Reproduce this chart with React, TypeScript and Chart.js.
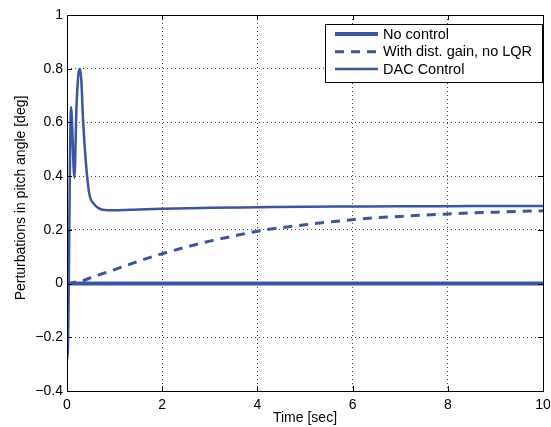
import React, { useEffect, useRef } from 'react';
import { Chart, registerables } from 'chart.js';
Chart.register(...registerables);

const seriesLabels = ['No control', 'With dist. gain, no LQR', 'DAC Control'];
const xTickValues = [0, 2, 4, 6, 8, 10];
const yTickValues = [-0.4, -0.2, 0, 0.2, 0.4, 0.6, 0.8, 1];
const xTitle = 'Time [sec]';
const yTitle = 'Perturbations in pitch angle [deg]';

const noControlT = [0, 10];
const noControlV = [0, 0];

const distGainT = [0, 0.35, 0.5, 1, 1.5, 2, 2.5, 3, 3.5, 4, 4.5, 5, 5.5, 6, 6.5, 7, 7.5, 8, 8.5, 9, 9.5, 10];
const distGainV = [0, 0.012, 0.022, 0.052, 0.083, 0.111, 0.136, 0.158, 0.177, 0.195, 0.208, 0.219, 0.229, 0.238, 0.245, 0.25, 0.255, 0.259, 0.263, 0.266, 0.269, 0.271];

const dacT = [0, 0.01, 0.085, 0.155, 0.2, 0.24, 0.27, 0.3, 0.34, 0.4, 0.47, 0.57, 0.65, 0.75, 1, 1.5, 2, 3, 4, 5, 6, 7, 8, 9, 10];
const dacV = [0, -0.28, 0.657, 0.395, 0.66, 0.78, 0.8, 0.76, 0.6, 0.444, 0.333, 0.296, 0.282, 0.275, 0.273, 0.276, 0.279, 0.282, 0.284, 0.286, 0.287, 0.288, 0.288, 0.289, 0.289];

const BLUE = '#3B54A5';
const FONT = "'Liberation Sans', Arial, Helvetica, sans-serif";

const toPts = (t: number[], v: number[]) => t.map((x, i) => ({ x, y: v[i] }));
const fmt = (v: number) => {
  const r = Math.round(v * 10) / 10;
  return String(r).replace('-', '\u2212');
};

const framePlugin = {
  id: 'frame',
  afterDraw(chart: any) {
    const { ctx, chartArea: a, scales } = chart;
    const xs = scales.x, ys = scales.y;
    ctx.save();
    ctx.strokeStyle = '#000';
    ctx.lineWidth = 1;
    ctx.setLineDash([]);
    ctx.strokeRect(Math.round(a.left) + 0.5, Math.round(a.top) + 0.5, Math.round(a.right - a.left), Math.round(a.bottom - a.top));
    const L = 5;
    ctx.beginPath();
    xTickValues.forEach((v) => {
      const px = Math.round(xs.getPixelForValue(v)) + 0.5;
      ctx.moveTo(px, a.bottom); ctx.lineTo(px, a.bottom - L);
      ctx.moveTo(px, a.top); ctx.lineTo(px, a.top + L);
    });
    yTickValues.forEach((v) => {
      const py = Math.round(ys.getPixelForValue(v)) + 0.5;
      ctx.moveTo(a.left, py); ctx.lineTo(a.left + L, py);
      ctx.moveTo(a.right, py); ctx.lineTo(a.right - L, py);
    });
    ctx.stroke();

    // y-axis title
    ctx.save();
    ctx.translate(21, 198);
    ctx.rotate(-Math.PI / 2);
    ctx.font = `14px ${FONT}`;
    ctx.fillStyle = '#000';
    ctx.textAlign = 'center';
    ctx.textBaseline = 'middle';
    ctx.fillText(yTitle, 0, 0);
    ctx.restore();

    // legend
    const bx = 325, by = 24, bw = 217, bh = 58;
    ctx.fillStyle = '#fff';
    ctx.fillRect(bx, by, bw, bh);
    ctx.strokeStyle = '#000';
    ctx.lineWidth = 1;
    ctx.strokeRect(bx + 0.5, by + 0.5, bw, bh);
    const rows = [34, 51.7, 69];
    const ds = chart.data.datasets;
    ctx.font = `14.5px ${FONT}`;
    ctx.textBaseline = 'middle';
    ctx.textAlign = 'left';
    ds.forEach((d: any, i: number) => {
      ctx.strokeStyle = d.borderColor;
      ctx.lineWidth = d.borderWidth;
      ctx.setLineDash(d.borderDash || []);
      ctx.beginPath();
      ctx.moveTo(335, rows[i]);
      ctx.lineTo(378, rows[i]);
      ctx.stroke();
      ctx.setLineDash([]);
      ctx.fillStyle = '#000';
      ctx.fillText(d.label, 383, rows[i] + 0.5);
    });
    ctx.restore();
  },
};

export default function App() {
  const ref = useRef<HTMLCanvasElement>(null);
  useEffect(() => {
    document.body.style.margin = '0';
    const chart = new Chart(ref.current!, {
      type: 'line',
      data: {
        datasets: [
          {
            label: seriesLabels[0],
            data: toPts(noControlT, noControlV),
            borderColor: BLUE,
            borderWidth: 4,
            pointRadius: 0,
            tension: 0,
            order: 0,
          },
          {
            label: seriesLabels[1],
            data: toPts(distGainT, distGainV),
            borderColor: BLUE,
            borderWidth: 3,
            borderDash: [9, 7],
            pointRadius: 0,
            cubicInterpolationMode: 'monotone',
            order: 2,
          },
          {
            label: seriesLabels[2],
            data: toPts(dacT, dacV),
            borderColor: BLUE,
            borderWidth: 2.5,
            pointRadius: 0,
            cubicInterpolationMode: 'monotone',
            order: 1,
          },
        ],
      },
      options: {
        animation: false,
        responsive: false,
        devicePixelRatio: 1,
        layout: { padding: { top: 15, right: 8, left: 0, bottom: 0 } },
        plugins: { legend: { display: false }, tooltip: { enabled: false } },
        scales: {
          x: {
            type: 'linear',
            min: 0,
            max: 10,
            afterFit: (s: any) => { s.height = 36; s.paddingRight = 0; s.paddingLeft = 0; },
            afterBuildTicks: (s: any) => { s.ticks = xTickValues.map((v) => ({ value: v })); },
            ticks: { font: { family: FONT, size: 14 }, color: '#000', padding: 6, maxRotation: 0, callback: (v: any) => fmt(Number(v)) },
            grid: { drawTicks: false, color: '#444', lineWidth: 1 },
            border: { display: false, dash: [1, 3] },
            title: { display: true, text: xTitle, font: { family: FONT, size: 14 }, color: '#000', padding: { top: 0, bottom: 0 } },
          },
          y: {
            type: 'linear',
            min: -0.4,
            max: 1,
            afterFit: (s: any) => { s.width = 67; s.paddingTop = 0; s.paddingBottom = 0; },
            afterBuildTicks: (s: any) => { s.ticks = yTickValues.map((v) => ({ value: v })); },
            ticks: { font: { family: FONT, size: 14 }, color: '#000', padding: 4, callback: (v: any) => fmt(Number(v)) },
            grid: { drawTicks: false, color: '#444', lineWidth: 1 },
            border: { display: false, dash: [1, 3] },
          },
        },
      },
      plugins: [framePlugin],
    });
    return () => chart.destroy();
  }, []);
  return (
    <div style={{ width: 551, height: 427, background: '#fff' }}>
      <canvas ref={ref} width={551} height={427} style={{ display: 'block', width: 551, height: 427 }} />
    </div>
  );
}
